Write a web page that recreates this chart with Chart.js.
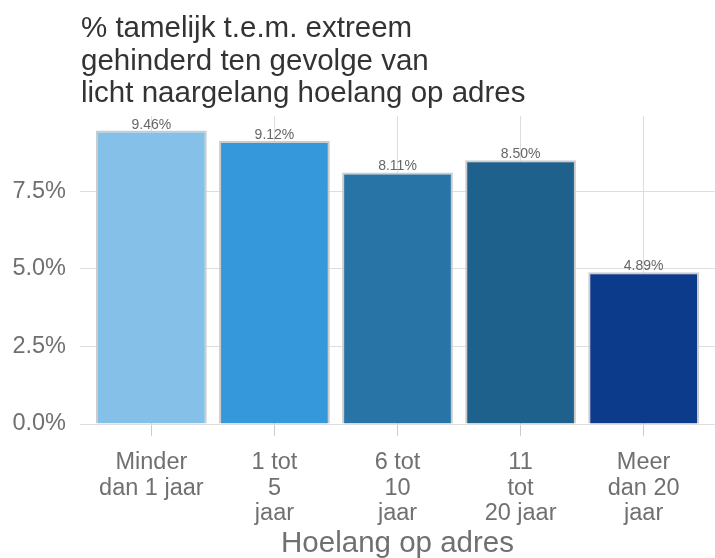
<!DOCTYPE html>
<html>
<head>
<meta charset="utf-8">
<script src="https://cdn.jsdelivr.net/npm/chart.js@4"></script>
<style>
  html, body { margin: 0; padding: 0; background: #fff; }
  #wrap { width: 715px; height: 558px; }
</style>
</head>
<body>
<div id="wrap"><canvas id="chart" width="715" height="558"></canvas></div>
<script>
// Données
var categories = [
    ['Minder', 'dan 1 jaar'],
    ['1 tot', '5', 'jaar'],
    ['6 tot', '10', 'jaar'],
    ['11', 'tot', '20 jaar'],
    ['Meer', 'dan 20', 'jaar']
];
var waarden = [9.46, 9.12, 8.11, 8.50, 4.89];
var kleuren = ['#85c0e8', '#3498db', '#2874a6', '#1f618d', '#0d3b8c'];
var yTicks = [0, 2.5, 5, 7.5];
var titel = ['% tamelijk t.e.m. extreem', 'gehinderd ten gevolge van', 'licht naargelang hoelang op adres'];
var asTitel = 'Hoelang op adres';

var font = '"Liberation Sans", Arial, sans-serif';

// Titel links boven het plotgebied
var titelPlugin = {
    id: 'titelPlugin',
    afterDraw: function(chart) {
        var c = chart.ctx;
        c.save();
        c.fillStyle = '#333333';
        c.font = '29.5px ' + font;
        c.textBaseline = 'alphabetic';
        c.textAlign = 'left';
        titel.forEach(function(regel, i) {
            c.fillText(regel, 81, 37 + i * 32.5);
        });
        c.restore();
    }
};

// Waarden boven de staven
var labelPlugin = {
    id: 'labelPlugin',
    afterDatasetsDraw: function(chart) {
        var c = chart.ctx;
        var meta = chart.getDatasetMeta(0);
        c.save();
        c.fillStyle = '#666666';
        c.font = '14px ' + font;
        c.textAlign = 'center';
        c.textBaseline = 'alphabetic';
        meta.data.forEach(function(bar, i) {
            c.fillText(waarden[i].toFixed(2) + '%', bar.x, bar.y - 2);
        });
        c.restore();
    }
};

var ctx = document.getElementById('chart').getContext('2d');
new Chart(ctx, {
    type: 'bar',
    data: {
        datasets: [{
            data: waarden.map(function(v, i) { return { x: i, y: v }; }),
            backgroundColor: kleuren,
            borderColor: '#cccccc',
            borderWidth: 2,
            barPercentage: 0.9,
            categoryPercentage: 1
        }]
    },
    options: {
        responsive: false,
        animation: false,
        layout: { padding: { top: 116, left: 0, right: 0, bottom: 0 } },
        plugins: {
            legend: { display: false },
            tooltip: { enabled: false },
            title: { display: false }
        },
        scales: {
            x: {
                type: 'linear',
                offset: false,
                min: -0.58,
                max: 4.58,
                afterBuildTicks: function(scale) {
                    scale.ticks = categories.map(function(_, i) { return { value: i }; });
                },
                afterFit: function(scale) { scale.height = 134; },
                border: { display: false },
                grid: {
                    offset: false,
                    color: '#dddddd',
                    lineWidth: 1,
                    drawTicks: true,
                    tickLength: 12,
                    tickColor: '#cccccc'
                },
                ticks: {
                    color: '#707070',
                    font: { family: font, size: 23.5, lineHeight: 1.085 },
                    padding: 14,
                    maxRotation: 0,
                    autoSkip: false,
                    callback: function(v) { return categories[v]; }
                },
                title: {
                    display: true,
                    text: asTitel,
                    color: '#707070',
                    font: { family: font, size: 29.5 },
                    padding: { top: 0, bottom: -4 }
                }
            },
            y: {
                min: 0,
                max: 9.93,
                afterBuildTicks: function(scale) {
                    scale.ticks = yTicks.map(function(v) { return { value: v }; });
                },
                afterFit: function(scale) { scale.width = 80; },
                border: { display: false },
                grid: { color: '#dddddd', lineWidth: 1, drawTicks: false },
                ticks: {
                    color: '#707070',
                    font: { family: font, size: 23.5 },
                    padding: 14,
                    callback: function(v) { return v.toFixed(1) + '%'; }
                }
            }
        }
    },
    plugins: [titelPlugin, labelPlugin]
});
</script>
</body>
</html>
